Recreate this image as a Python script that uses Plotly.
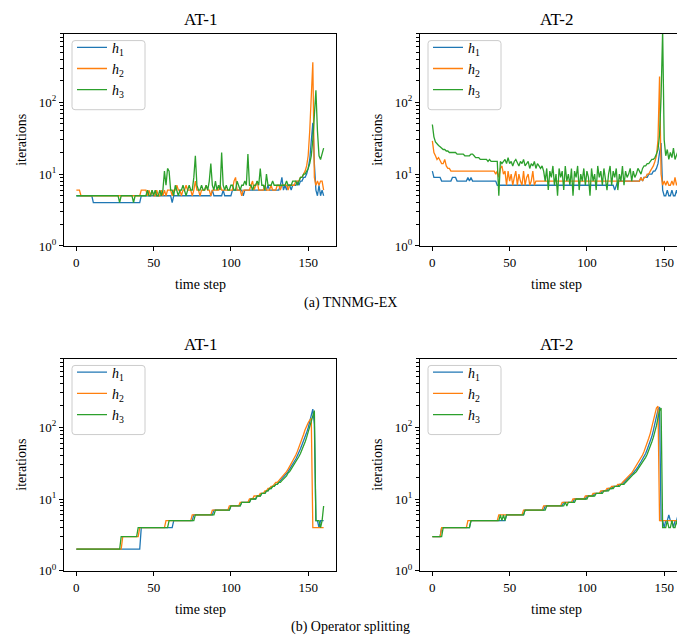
import plotly.graph_objects as go

# ---------------- data ----------------
steps = list(range(161))

# (a) TNNMG-EX, AT-1
a1_h1 = ([5]*11 + [4]*31 + [5]*20 + [4] + [5]*25 + [6] + [5]*6 + [6] + [5]*5 +
         [6,6,6,6,6,6,6,5,6,6,6,6,6,6,6,6,6,6,6] +
         [6,6,6,6,7,6,6,6,6,6,6,6,7] + [9] + [6] +
         [7,6,7,7,6,7,7,7,8,7,8,8,9] + [9,10,12,16,30] + [52] +
         [14,6,5,7,5,6,5])
a1_h2 = ([6,6,6] + [5]*39 + [6,6,6,6] +
         [5,6,5,6,5,5,6,5,5,6,5,6,5] +
         [6,6,6,5,6,6,7,6,6,5,6,6,7,6,6,6,5] +
         [6,8,6,6,5,6,6,6,7,6,6,5,6,6,6,6,6,7,6,6,6,6,6,6,6] +
         [6,8,9,6,6,6,5,6,6,6,6,6,7,8,6,7,8,6,6,6] +
         [6,7,6,6,6,7,6,6,6,7,7,6,7,7,7,7,6,7,7,7,7,8,8,8,9,9,10] +
         [11,13,18,40,120] + [360] + [9,7,8,7,8,8,6])
a1_h3 = ([5]*28 + [4] + [5]*8 + [4] + [5]*7 +
         [5,6,5,5,6,5,6,5,5,6,5,6] + [11,7,12,11,6] +
         [6,5,7,6,5,6,6,7,6,5,6,7,6,6] + [9,18,7] +
         [6,6,7,6,6,7,6,8] + [14] + [7] + [6,8,6,7,6] + [20] + [7] +
         [6,7,6,6,7,7,6,6,8,7,6,7,7,8,7] + [19] + [7] + [7,6,7,7,8,7] +
         [12] + [7,7,6] + [10] +
         [7,7,7,8,7,7,7,7,7,7,7,7,8,7,7,7,8,8,8,7,8,9] +
         [9,10,10,11,12,14,18,30,70] + [147] + [40,18,16,20,23])

# (a) TNNMG-EX, AT-2
a2_h1 = ([11] + [9]*5 + [8]*7 + [9,9,9,8] + [8,8,8,8,8,8,9,8,9,8] + [8]*15 +
         [7]*73 + [7,7,7,6,7] + [8]*14 +
         [8,9,8,9,9,9,10,10,10,11,11,12,14] + [20,27] +
         [6,5,5,6,5,5,6,5,5,6,5,5])
a2_h2 = ([29,20,18,16,17,15,14,14,16,13,12,12] + [11]*29 +
         [10,11,9,12,13,10,11] +
         [7,11,8,10,7,9,11,7,10,8,7,11,7,9,10,7,8,11,7,8,8,8] +
         [8]*64 + [8,9,8,9,9,10,10,11,12,13,15,18,30] + [228] +
         [10,7,8,7,8,7,7,8,7,9,7,8,8])
a2_h3 = ([49,33,28,26,25,24,23,22,22,21,21] +
         [20,20,20,20,20,19,19,19,19,19,18,18,18,18] + [19,19,18,17,17] +
         [17,16,16,16,16,16,15,16,15,15,15,15,15] + [5] +
         [15,14,15,16,14,17,14,15,13,15,16,14,13,15,14,16,13,14,15,12,14,13,15,12,14,13,12,13,11] +
         [8,12,6,11,9,13,7,10,5,12,9,11,6,13,8,10,7,12,5,11,9,13,6,10,8,12,7,11,9,5,
          12,8,10,6,13,9,11,7,12,8,6,10,13,7,11,9,12,6,10,8,13,7,11,9,10,12,8,11,9,10,
          12,11,10,12,13] +
         [13,14,14,15,16,16,17,19,22,35,120] + [1000] +
         [30,18,22,16,20,17,23,16,19,21,17])

# (b) Operator splitting, AT-1
b1_h1 = ([2]*42 + [4]*21 + [5]*13 + [6]*13 + [7]*11 + [8]*7 + [9]*6 +
         [10,10,10,10,11,11,11,12,12,12,13,13,14,14,15,15,16,16,17] +
         [18,19,20,21,22,24,26,28,30,33,36,40,44,50,57,64,73,84,98,120,150] +
         [178] + [110] + [5,5,4,5,5,5])
b1_h2 = ([2]*30 + [3]*11 + [4]*17 + [5]*17 + [6]*13 + [7]*11 + [8]*7 + [9]*6 +
         [10,10,10,11,11,11,11,12,12,12,13,13,14,14,15,15,16,17,17] +
         [18,19,20,21,23,24,26,28,31,34,37,41,46,52,59,68,79,92,105,115,125,132] +
         [4]*8)
b1_h3 = ([2]*29 + [3]*11 + [4]*20 + [5]*17 + [6]*13 + [7]*10 + [8]*7 + [9]*6 +
         [10,10,10,10,11,11,11,12,12,12,13,13,14,14,15,15,16,16,17] +
         [17,18,19,20,21,23,24,26,28,30,33,36,39,43,48,54,62,72,85,102,125,150] +
         [170] + [5,5,5,4,5,8])

# (b) Operator splitting, AT-2
b2_h1 = ([3]*6 + [4]*19 + [5]*23 + [6]*12 + [7]*13 + [8]*12 + [9]*7 + [10]*8 +
         [11]*5 + [12]*5 + [13]*4 + [14]*3 + [15]*4 + [16]*3 + [17,18] +
         [19,20,21,22,23,25,26,28,30,33,36,39,43,49,56,64,74,90,110,140,175] +
         [190] + [5,5,4,5,5,6,5,5,4,5,5,6,5])
b2_h2 = ([3]*6 + [4]*17 + [5]*20 + [6]*16 + [7]*13 + [8]*12 + [9]*7 + [10]*8 +
         [11]*5 + [12]*5 + [13]*4 + [14]*3 + [15]*4 + [16]*3 + [17,18] +
         [19,20,21,22,23,25,27,29,31,34,37,41,46,52,60,70,82,100,125,160,185] +
         [195] + [5]*13 + [4])
b2_h3 = ([3]*7 + [4]*18 + [5]*19 + [6,5,6,5] + [6]*12 + [7]*14 + [8]*12 +
         [9,8,9,9,9,9,9] + [10]*8 + [11]*5 + [12]*5 + [13]*4 + [14]*3 + [15]*4 +
         [16]*3 + [17,18] +
         [19,20,21,22,23,24,26,28,30,32,35,38,42,47,54,62,72,86,105,135,170] +
         [185] + [4,4,4,5,4,4,5,4,4,5,4,4])

series_names = ["<i>h</i><sub>1</sub>", "<i>h</i><sub>2</sub>", "<i>h</i><sub>3</sub>"]
colors = ["#1f77b4", "#ff7f0e", "#2ca02c"]
panel_titles = ["AT-1", "AT-2", "AT-1", "AT-2"]
captions = ["(a) TNNMG-EX", "(b) Operator splitting"]
x_ticks = [0, 50, 100, 150]
y_ticks = [1, 10, 100]
y_ticktext = ["10<sup>0</sup>", "10<sup>1</sup>", "10<sup>2</sup>"]
y_minor = [m * d for d in (1, 10, 100) for m in range(2, 10)]

panels = [
    [a1_h1, a1_h2, a1_h3],
    [a2_h1, a2_h2, a2_h3],
    [b1_h1, b1_h2, b1_h3],
    [b2_h1, b2_h2, b2_h3],
]

# ---------------- layout geometry (pixels) ----------------
W, H = 685, 637
FONT = "Liberation Serif"
px_x = [(56, 328), (412, 684), (56, 328), (412, 684)]
px_y = [(26, 241), (26, 241), (355, 570), (355, 570)]


def fx(p):
    return p / W


def fy(p):
    return (H - p) / H


def rounded_box(x0, y0, x1, y1, r):
    pts = [
        f"M {fx(x0 + r)},{fy(y0)}",
        f"L {fx(x1 - r)},{fy(y0)}",
        f"Q {fx(x1)},{fy(y0)} {fx(x1)},{fy(y0 + r)}",
        f"L {fx(x1)},{fy(y1 - r)}",
        f"Q {fx(x1)},{fy(y1)} {fx(x1 - r)},{fy(y1)}",
        f"L {fx(x0 + r)},{fy(y1)}",
        f"Q {fx(x0)},{fy(y1)} {fx(x0)},{fy(y1 - r)}",
        f"L {fx(x0)},{fy(y0 + r)}",
        f"Q {fx(x0)},{fy(y0)} {fx(x0 + r)},{fy(y0)}",
        "Z",
    ]
    return " ".join(pts)


fig = go.Figure()

for i, series in enumerate(panels):
    sfx = "" if i == 0 else str(i + 1)
    leg = "legend" if i == 0 else "legend" + str(i + 1)
    for j, vals in enumerate(series):
        fig.add_trace(go.Scatter(
            x=steps, y=vals, mode="lines", name=series_names[j],
            line=dict(color=colors[j], width=1.3),
            xaxis="x" + sfx, yaxis="y" + sfx, legend=leg,
        ))

layout = dict(
    width=W, height=H,
    margin=dict(l=0, r=0, t=0, b=0),
    paper_bgcolor="white", plot_bgcolor="white",
    font=dict(family=FONT, color="black", size=13),
    annotations=[], shapes=[],
)

for i in range(4):
    sfx = "" if i == 0 else str(i + 1)
    x0, x1 = px_x[i]
    y0, y1 = px_y[i]
    layout["xaxis" + sfx] = dict(
        domain=[fx(x0), fx(x1)], anchor="y" + sfx,
        range=[-8, 168], tickvals=x_ticks, ticks="outside", ticklen=4,
        tickwidth=1, tickcolor="black", showline=True, linecolor="black",
        linewidth=1.2, mirror=True, showgrid=False, zeroline=False,
        tickfont=dict(family=FONT, size=13),
    )
    layout["yaxis" + sfx] = dict(
        domain=[fy(y1), fy(y0)], anchor="x" + sfx, type="log",
        range=[0, 2.955], tickvals=y_ticks, ticktext=y_ticktext,
        ticks="outside", ticklen=4, tickwidth=1, tickcolor="black",
        minor=dict(tickvals=y_minor, ticks="outside", ticklen=2.5,
                   tickwidth=0.8, tickcolor="black", showgrid=False),
        showline=True, linecolor="black", linewidth=1.2, mirror=True,
        showgrid=False, zeroline=False, tickfont=dict(family=FONT, size=13),
    )
    # legend frame (rounded, semi-transparent like matplotlib)
    layout["shapes"].append(dict(
        type="path", xref="paper", yref="paper",
        path=rounded_box(x0 + 8, y0 + 7, x0 + 81, y0 + 77, 3),
        line=dict(color="#cccccc", width=1),
        fillcolor="rgba(255,255,255,0.8)", layer="above",
    ))
    leg = "legend" if i == 0 else "legend" + str(i + 1)
    layout[leg] = dict(
        x=fx(x0 + 8), y=fy(y0 - 2), xanchor="left", yanchor="top",
        bgcolor="rgba(0,0,0,0)", borderwidth=0,
        font=dict(family=FONT, size=14), itemwidth=30, tracegroupgap=0,
    )
    cx = (x0 + x1) / 2
    layout["annotations"].append(dict(
        text=panel_titles[i], x=fx(cx), y=fy(y0 - 14), xref="paper", yref="paper",
        showarrow=False, xanchor="center", yanchor="middle",
        font=dict(family=FONT, size=17)))
    layout["annotations"].append(dict(
        text="time step", x=fx(cx), y=fy(y1 + 39), xref="paper", yref="paper",
        showarrow=False, xanchor="center", yanchor="middle",
        font=dict(family=FONT, size=14)))
    layout["annotations"].append(dict(
        text="iterations", x=fx(x0 - 42), y=fy((y0 + y1) / 2), xref="paper",
        yref="paper", showarrow=False, xanchor="center", yanchor="middle",
        textangle=-90, font=dict(family=FONT, size=14)))

layout["annotations"].append(dict(
    text=captions[0], x=0.5, y=fy(299), xref="paper", yref="paper",
    showarrow=False, xanchor="center", yanchor="middle",
    font=dict(family=FONT, size=14)))
layout["annotations"].append(dict(
    text=captions[1], x=0.5, y=fy(627), xref="paper", yref="paper",
    showarrow=False, xanchor="center", yanchor="middle",
    font=dict(family=FONT, size=14)))

fig.update_layout(**layout)
fig.write_html("out.html")
